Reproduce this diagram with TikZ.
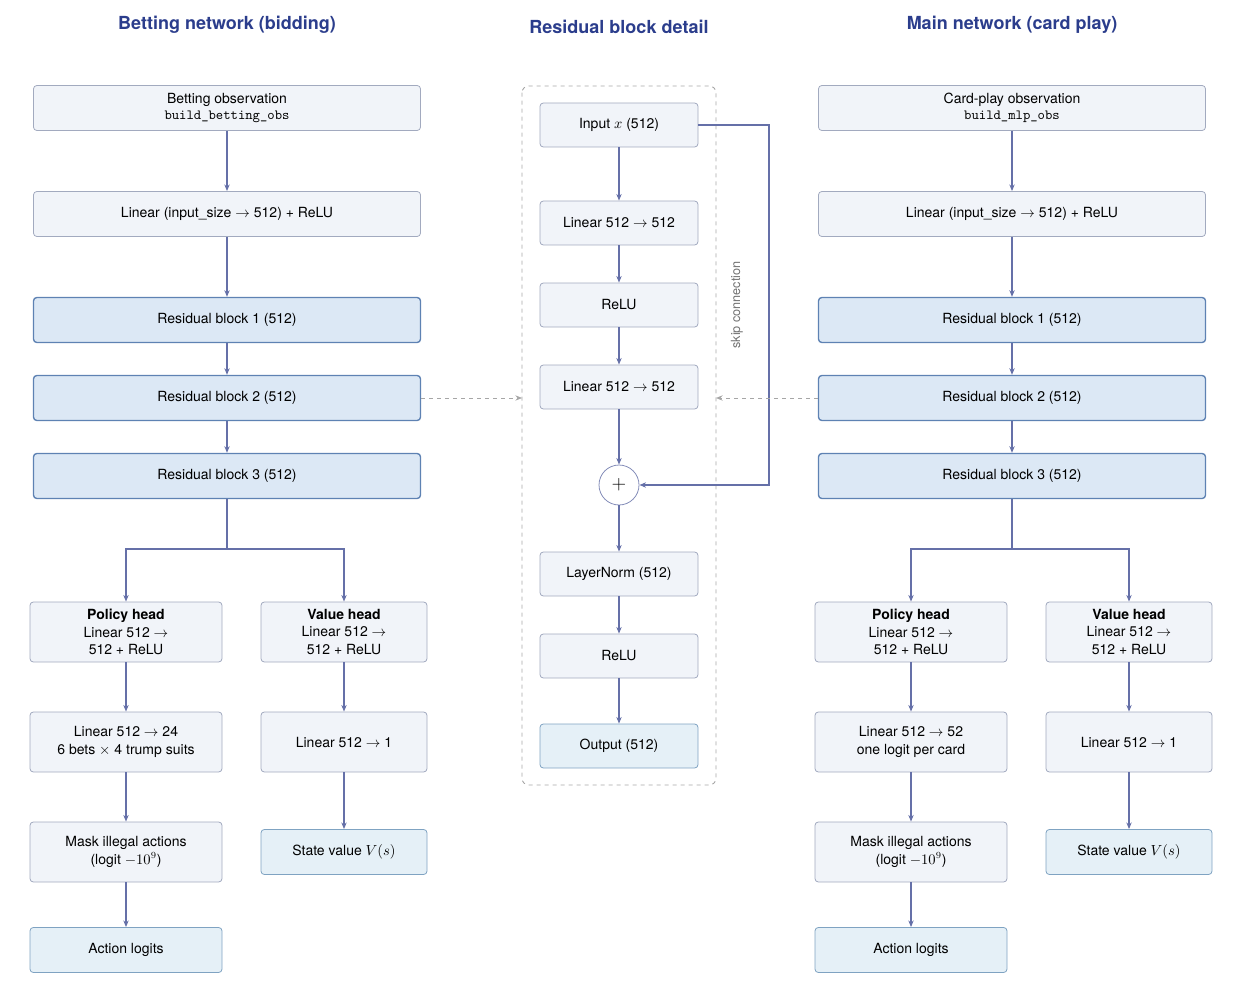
\documentclass[tikz,border=0pt]{standalone}
\usepackage{fontspec}
\setmainfont{TeX Gyre Heros}
\usetikzlibrary{arrows.meta}
\definecolor{bfill}{HTML}{F1F4F9}
\definecolor{bdraw}{HTML}{A2AABF}
\definecolor{rfill}{HTML}{DCE8F5}
\definecolor{rdraw}{HTML}{5E82B3}
\definecolor{ofill}{HTML}{E5F0F7}
\definecolor{odraw}{HTML}{7FA3C2}
\definecolor{arr}{HTML}{6570A8}
\definecolor{ttl}{HTML}{2B3D8C}
\tikzset{
 base/.style={rounded corners=2.5pt,align=center,inner sep=0pt,font=\fontsize{10.5}{13}\selectfont},
 bx/.style={base,fill=bfill,draw=bdraw,line width=0.6pt},
 rb/.style={base,fill=rfill,draw=rdraw,line width=1pt},
 ob/.style={base,fill=ofill,draw=odraw,line width=0.6pt},
 ar/.style={draw=arr,line width=1pt,-{Stealth[length=5pt,width=4pt]}},
 da/.style={draw=gray!70,dashed,line width=0.7pt,-{Stealth[length=5pt,width=4pt]}},
 ttlst/.style={font=\bfseries\fontsize{13.5}{16}\selectfont,text=ttl},
}
\begin{document}
\begin{tikzpicture}[x=0.75pt,y=-0.75pt]
\useasboundingbox (0,0) rectangle (1243,988);
% titles
\node[ttlst] (t1) at (227,25) {Betting network (bidding)};
\node[ttlst] (t2) at (619,27) {Residual block detail};
\node[ttlst] (t3) at (1012,25) {Main network (card play)};
% middle frame
\draw[gray!70,dashed,line width=0.7pt,rounded corners=5pt] (522,86) rectangle (716,785);
\coordinate (fl) at (522,398);
\coordinate (fr) at (716,398);
% columns
\foreach \p/\dx/\obs/\ob/\pl/\pb in {L/0/Betting observation/build\_betting\_obs/Linear 512 $\rightarrow$ 24\\6 bets $\times$ 4 trump suits/,R/785/Card-play observation/build\_mlp\_obs/Linear 512 $\rightarrow$ 52\\one logit per card/}{
 \node[bx,minimum width=387*0.75pt,minimum height=45*0.75pt] (\p obs) at (227+\dx,108) {\obs\\[-1pt]\texttt{\ob}};
 \node[bx,minimum width=387*0.75pt,minimum height=45*0.75pt] (\p lin) at (227+\dx,214) {Linear (input\_size $\rightarrow$ 512) + ReLU};
 \node[rb,minimum width=387*0.75pt,minimum height=45*0.75pt] (\p r1) at (227+\dx,320) {Residual block 1 (512)};
 \node[rb,minimum width=387*0.75pt,minimum height=45*0.75pt] (\p r2) at (227+\dx,398) {Residual block 2 (512)};
 \node[rb,minimum width=387*0.75pt,minimum height=45*0.75pt] (\p r3) at (227+\dx,476) {Residual block 3 (512)};
 \node[bx,minimum width=192*0.75pt,minimum height=60*0.75pt] (\p ph) at (126+\dx,632) {\textbf{Policy head}\\Linear 512 $\rightarrow$\\512 + ReLU};
 \node[bx,minimum width=166*0.75pt,minimum height=60*0.75pt] (\p vh) at (344+\dx,632) {\textbf{Value head}\\Linear 512 $\rightarrow$\\512 + ReLU};
 \node[bx,minimum width=192*0.75pt,minimum height=60*0.75pt] (\p pl) at (126+\dx,742) {\pl};
 \node[bx,minimum width=166*0.75pt,minimum height=60*0.75pt] (\p vl) at (344+\dx,742) {Linear 512 $\rightarrow$ 1};
 \node[bx,minimum width=192*0.75pt,minimum height=60*0.75pt] (\p mk) at (126+\dx,852) {Mask illegal actions\\(logit $-10^9$)};
 \node[ob,minimum width=166*0.75pt,minimum height=45*0.75pt] (\p sv) at (344+\dx,852) {State value $V(s)$};
 \node[ob,minimum width=192*0.75pt,minimum height=45*0.75pt] (\p al) at (126+\dx,950) {Action logits};
 \coordinate (\p br) at (227+\dx,549);
 \draw[ar] (\p obs) -- (\p lin);
 \draw[ar] (\p lin) -- (\p r1);
 \draw[ar] (\p r1) -- (\p r2);
 \draw[ar] (\p r2) -- (\p r3);
 \draw[draw=arr,line width=1pt] (\p r3) -- (\p br);
 \draw[ar] (\p br) -| (\p ph);
 \draw[ar] (\p br) -| (\p vh);
 \draw[ar] (\p ph) -- (\p pl);
 \draw[ar] (\p pl) -- (\p mk);
 \draw[ar] (\p mk) -- (\p al);
 \draw[ar] (\p vh) -- (\p vl);
 \draw[ar] (\p vl) -- (\p sv);
}
% middle
\tikzset{mb/.style={bx,minimum width=158*0.75pt,minimum height=44*0.75pt}}
\node[mb] (in) at (619,125) {Input $x$ (512)};
\node[mb] (m1) at (619,223) {Linear 512 $\rightarrow$ 512};
\node[mb] (m2) at (619,305) {ReLU};
\node[mb] (m3) at (619,387) {Linear 512 $\rightarrow$ 512};
\node[circle,draw=arr!80,fill=white,line width=0.6pt,minimum size=40*0.75pt,inner sep=0pt,font=\Large] (plus) at (619,485) {$+$};
\node[mb] (m4) at (619,574) {LayerNorm (512)};
\node[mb] (m5) at (619,656) {ReLU};
\node[ob,minimum width=158*0.75pt,minimum height=44*0.75pt] (m6) at (619,746) {Output (512)};
\draw[ar] (in) -- (m1);
\draw[ar] (m1) -- (m2);
\draw[ar] (m2) -- (m3);
\draw[ar] (m3) -- (plus);
\draw[ar] (plus) -- (m4);
\draw[ar] (m4) -- (m5);
\draw[ar] (m5) -- (m6);
\coordinate (sk) at (769,125);
\draw[ar] (in.east) -- (sk) |- (plus);
\node[rotate=90,text=gray!90!black,font=\fontsize{9.5}{11}\selectfont] (skl) at (737,305) {skip connection};
\draw[da] (Lr2) -- (fl);
\draw[da] (Rr2) -- (fr);
\end{tikzpicture}
\end{document}
